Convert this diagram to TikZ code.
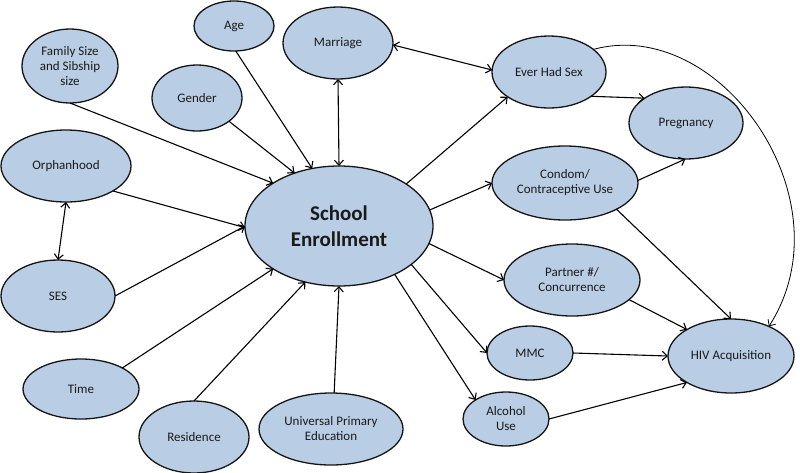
\documentclass[tikz,border=0pt]{standalone}
\usepackage{fontspec}
\setmainfont{Carlito}
\usetikzlibrary{shapes.geometric,arrows.meta}
\definecolor{nodefill}{HTML}{B9CDE5}
\definecolor{nodeline}{HTML}{151515}
\definecolor{txt}{HTML}{1A1A1A}
\begin{document}
\begin{tikzpicture}[x=1pt,y=-1pt,
  var/.style={ellipse,draw=nodeline,fill=nodefill,line width=1.3pt,inner sep=0pt,outer sep=0pt,
    align=center,text=txt,font=\fontsize{13}{15}\selectfont},
  conn/.style={line width=1.1pt,-{Straight Barb[length=5pt,width=9pt]}},
  bconn/.style={line width=1.1pt,{Straight Barb[length=5pt,width=9pt]}-{Straight Barb[length=5pt,width=9pt]}}]
\useasboundingbox (0,0) rectangle (800,472);
% nodes
\node[var,minimum width=80pt,minimum height=50pt] (age) at (234,26) {Age};
\node[var,minimum width=110pt,minimum height=72pt] (mar) at (338,43) {Marriage};
\node[var,minimum width=96pt,minimum height=74pt] (fam) at (70,66) {Family Size\\and Sibship\\size};
\node[var,minimum width=90pt,minimum height=66pt] (gen) at (197,98) {Gender};
\node[var,minimum width=130pt,minimum height=72pt] (orp) at (66,166) {Orphanhood};
\node[var,minimum width=188pt,minimum height=120pt,font=\fontsize{21}{26}\selectfont\bfseries] (se) at (339,226) {School\\Enrollment};
\node[var,minimum width=114pt,minimum height=72pt] (ses) at (58,296) {SES};
\node[var,minimum width=116pt,minimum height=60pt] (tim) at (81,389) {Time};
\node[var,minimum width=110pt,minimum height=72pt] (res) at (194,437) {Residence};
\node[var,minimum width=144pt,minimum height=72pt] (upe) at (331,429) {Universal Primary\\Education};
\node[var,minimum width=114pt,minimum height=72pt] (ehs) at (549,72) {Ever Had Sex};
\node[var,minimum width=114pt,minimum height=72pt] (prg) at (686,123) {Pregnancy};
\node[var,minimum width=146pt,minimum height=74pt] (con) at (565,183) {Condom/\\Contraceptive Use};
\node[var,minimum width=136pt,minimum height=72pt] (par) at (572,280) {Partner \#/\\Concurrence};
\node[var,minimum width=86pt,minimum height=54pt] (mmc) at (530,353) {MMC};
\node[var,minimum width=126pt,minimum height=74pt] (hiv) at (731,356) {HIV Acquisition};
\node[var,minimum width=86pt,minimum height=54pt] (alc) at (506,419) {Alcohol\\Use};
% connectors into School Enrollment
\draw[conn] (fam.-90) -- (se.147.7);
\draw[conn] (gen.-36.9) -- (se.130.4);
\draw[conn] (age.-86) -- (se.115.8);
\draw[bconn] (mar.-90) -- (se.90);
\draw[conn] (orp.-28.4) -- (se.181);
\draw[bconn] (orp.-90) -- (ses.90);
\draw[conn] (ses.0) -- (se.180);
\draw[conn] (tim.27) -- (se.213.3);
\draw[conn] (res.90) -- (se.239.7);
\draw[conn] (upe.85) -- (se.270);
% connectors out of School Enrollment
\draw[conn] (se.32.7) -- (ehs.211.4);
\draw[conn] (se.10.9) -- (con.180);
\draw[conn] (se.-11.5) -- (par.180);
\draw[conn] (se.-28.5) -- (mmc.180);
\draw[conn] (se.-41.8) -- (alc.148);
% right side
\draw[bconn] (mar.-2) -- (ehs.178);
\draw[conn] (ehs.-30.8) -- (prg.149.7);
\draw[conn] (con.2) -- (prg.-91);
\draw[conn] (con.-27) -- (hiv.90);
\draw[conn] (par.-19.5) -- (hiv.149);
\draw[conn] (mmc.0) -- (hiv.180);
\draw[conn] (alc.0) -- (hiv.211);
\draw[line width=0.8pt,-{Straight Barb[length=5pt,width=9pt]}] (ehs.27.5) .. controls (720,15) and (850,200) .. (hiv.38.7);
\end{tikzpicture}
\end{document}
